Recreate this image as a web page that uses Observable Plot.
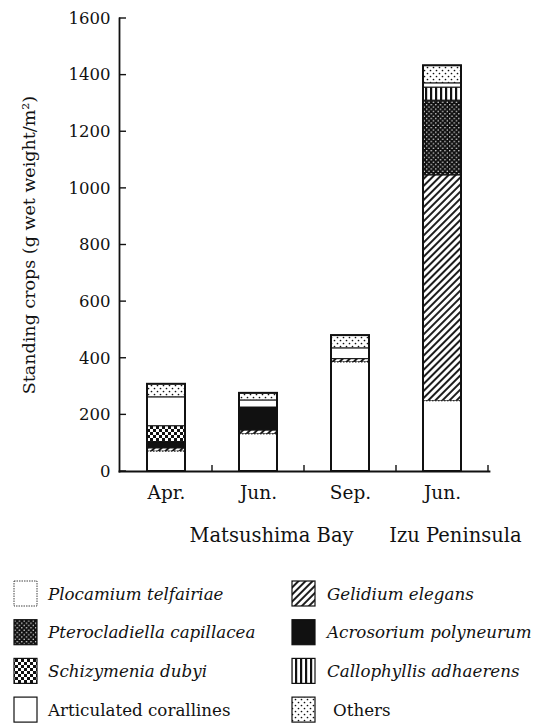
<!DOCTYPE html>
<html>
<head>
<meta charset="utf-8">
<script src="https://cdn.jsdelivr.net/npm/d3@7"></script>
<script src="https://cdn.jsdelivr.net/npm/@observablehq/plot@0.6"></script>
<style>
  body { margin: 0; background: #fff; font-family: "DejaVu Serif", serif; }
  #chart svg, #legend svg { display: block; }
</style>
</head>
<body>
<svg style="position:absolute;width:0;height:0" aria-hidden="true">
  <defs>
    <pattern id="pat-gel" width="5" height="5" patternUnits="userSpaceOnUse" patternTransform="rotate(45)">
      <rect width="5" height="5" fill="#fff"/>
      <line x1="1" y1="0" x2="1" y2="5" stroke="#111" stroke-width="1.9"/>
    </pattern>
    <pattern id="pat-pte" width="4.6" height="4.6" patternUnits="userSpaceOnUse">
      <rect width="4.6" height="4.6" fill="#111"/>
      <circle cx="1.15" cy="1.15" r="0.75" fill="#fff"/>
      <circle cx="3.45" cy="3.45" r="0.75" fill="#fff"/>
    </pattern>
    <pattern id="pat-sch" width="6" height="6" patternUnits="userSpaceOnUse">
      <rect width="6" height="6" fill="#fff"/>
      <rect x="0" y="0" width="3" height="3" fill="#111"/>
      <rect x="3" y="3" width="3" height="3" fill="#111"/>
    </pattern>
    <pattern id="pat-cal" width="5" height="5" patternUnits="userSpaceOnUse">
      <rect width="5" height="5" fill="#fff"/>
      <rect x="0" y="0" width="2.2" height="5" fill="#111"/>
    </pattern>
    <pattern id="pat-oth" width="6" height="6" patternUnits="userSpaceOnUse">
      <rect width="6" height="6" fill="#fff"/>
      <circle cx="1.5" cy="1.5" r="0.85" fill="#111"/>
      <circle cx="4.5" cy="4.5" r="0.85" fill="#111"/>
    </pattern>
  </defs>
</svg>
<div id="chart"></div>
<div id="legend"></div>
<script>
// ---- data ----
const sites = ["Apr", "JunM", "Sep", "JunI"];
const siteLabels = ["Apr.", "Jun.", "Sep.", "Jun."];
const groups = ["Matsushima Bay", "Izu Peninsula"];
const groupSites = ["JunM", "JunI"];
const yTicks = [0, 200, 400, 600, 800, 1000, 1200, 1400, 1600];

const species = [
  "Plocamium telfairiae", "Gelidium elegans",
  "Pterocladiella capillacea", "Acrosorium polyneurum",
  "Schizymenia dubyi", "Callophyllis adhaerens",
  "Articulated corallines", "Others"
];
const italicSpecies = [true, true, true, true, true, true, false, false];

const plocamium      = [70, 131, 385, 248];
const gelidium       = [12, 14, 12, 798];
const pterocladiella = [0, 0, 0, 264];
const acrosorium     = [22, 81, 0, 0];
const schizymenia    = [56, 0, 0, 0];
const callophyllis   = [0, 0, 0, 46];
const articulated    = [102, 25, 38, 15];
const others         = [46, 25, 45, 62];

// ---- styles ----
const fills = ["#fff", "url(#pat-gel)", "url(#pat-pte)", "#111", "url(#pat-sch)", "url(#pat-cal)", "#fff", "url(#pat-oth)"];
const ink = "#111";
const serif = "'DejaVu Serif', serif";

const series = [plocamium, gelidium, pterocladiella, acrosorium, schizymenia, callophyllis, articulated, others];
const rows = [];
sites.forEach((s, i) => {
  series.forEach((arr, j) => {
    if (arr[i] > 0) rows.push({site: s, species: species[j], value: arr[i], fill: fills[j], stroke: j === 0 ? "none" : ink});
  });
});
const plocRows = sites.map((s, i) => ({site: s, value: plocamium[i]}));
const totals = sites.map((s, i) => ({site: s, value: d3.sum(series, arr => arr[i])}));

const chart = Plot.plot({
  width: 538,
  height: 560,
  marginLeft: 119,
  marginRight: 49,
  marginTop: 18,
  marginBottom: 89,
  style: {fontFamily: serif, fontSize: "18px", color: ink, background: "#fff"},
  x: {domain: sites, paddingInner: 0.59, paddingOuter: 0.305},
  y: {domain: [0, 1600]},
  color: {type: "identity"},
  marks: [
    Plot.barY(rows, Plot.stackY({x: "site", y: "value", fill: "fill", stroke: "stroke", strokeWidth: 1})),
    Plot.barY(plocRows, {x: "site", y: "value", fill: "#fff", stroke: ink, strokeWidth: 1, strokeDasharray: "1.5,1.5"}),
    Plot.barY(totals, {x: "site", y: "value", fill: "none", stroke: ink, strokeWidth: 2}),
    Plot.frame({anchor: "left", stroke: ink, strokeWidth: 1.8}),
    Plot.frame({anchor: "bottom", stroke: ink, strokeWidth: 1.8}),
    Plot.axisY({
      ticks: yTicks, tickSize: 0, tickPadding: 9, tickFormat: d => String(d),
      label: "Standing crops (g wet weight/m²)", labelAnchor: "center", labelOffset: 97, labelArrow: "none",
      fontSize: 16.5
    }),
    Plot.axisX({
      tickSize: 0, tickPadding: 14, label: null, fontSize: 18.5,
      tickFormat: d => siteLabels[sites.indexOf(d)]
    }),
    Plot.text(groups, {x: (d, i) => groupSites[i], text: d => d, frameAnchor: "bottom", dy: 64, dx: 13, lineAnchor: "middle", fill: ink, fontSize: 19.5})
  ]
});

// y-axis label size kept separately
d3.select(chart).selectAll("[aria-label='y-axis label'] text").style("font-size", "17.5px");

// inward tick marks, positioned from the plot's own scales
const sx = chart.scale("x"), sy = chart.scale("y");
const g = d3.select(chart).append("g").attr("stroke", ink).attr("stroke-width", 1.4);
sites.forEach(s => {
  const xb = sx.apply(s) + sx.bandwidth + (sx.step - sx.bandwidth) / 2;
  g.append("line").attr("x1", xb).attr("x2", xb).attr("y1", sy.apply(0)).attr("y2", sy.apply(0) - 6);
});
yTicks.forEach(t => {
  const yy = sy.apply(t);
  g.append("line").attr("x1", 119).attr("x2", 126).attr("y1", yy).attr("y2", yy);
});
document.getElementById("chart").appendChild(chart);

// ---- legend ----
const lg = d3.select("#legend").append("svg").attr("width", 538).attr("height", 168)
  .style("font-family", serif).style("font-size", "16.7px");
species.forEach((name, j) => {
  const col = j % 2, row = Math.floor(j / 2);
  const bx = col === 0 ? 14 : 292;
  const by = 21 + row * 38.7;
  lg.append("rect").attr("x", bx).attr("y", by).attr("width", 23).attr("height", 25)
    .attr("fill", fills[j]).attr("stroke", ink).attr("stroke-width", j === 0 ? 0.8 : 1.2)
    .attr("stroke-dasharray", j === 0 ? "1.5,1" : null);
  lg.append("text").attr("x", col === 0 ? 48 : (j === 7 ? 333 : 327)).attr("y", by + 18.5)
    .attr("fill", ink).style("font-style", italicSpecies[j] ? "italic" : "normal").text(name);
});
</script>
</body>
</html>
